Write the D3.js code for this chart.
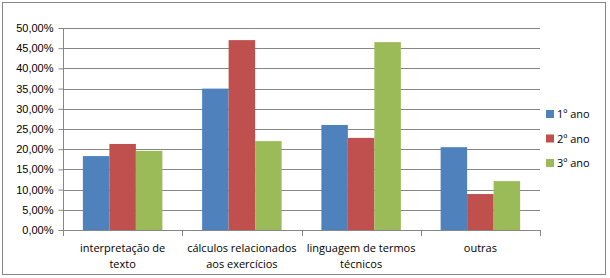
<!DOCTYPE html>
<html>
<head>
<meta charset="utf-8">
<script src="https://cdn.jsdelivr.net/npm/d3@7"></script>
<style>
  body { margin: 0; background: #fff; }
  svg { display: block; font-family: "Open Sans", "Liberation Sans", sans-serif; }
</style>
</head>
<body>
<svg width="610" height="278"></svg>
<script>
const categories = [["interpretação de", "texto"], ["cálculos relacionados", "aos exercícios"], ["linguagem de termos", "técnicos"], ["outras"]];
const seriesNames = ["1º ano", "2º ano", "3º ano"];
const ano1 = [18.3, 35.0, 26.0, 20.5];
const ano2 = [21.3, 47.0, 22.8, 8.9];
const ano3 = [19.6, 22.0, 46.5, 12.1];
const yTicks = [0, 5, 10, 15, 20, 25, 30, 35, 40, 45, 50];

const colors = ["#4F81BD", "#C0504D", "#9BBB59"];
const series = [ano1, ano2, ano3];

const svg = d3.select("svg");
const margin = { top: 28, left: 63, right: 70, bottom: 48 };
const width = 610 - margin.left - margin.right,
  height = 278 - margin.top - margin.bottom;

// chart border
svg.append("rect")
  .attr("x", 2.5).attr("y", 2.5)
  .attr("width", 603).attr("height", 272)
  .attr("fill", "#fff").attr("stroke", "#868686");

const g = svg.append("g").attr("transform", `translate(${margin.left},${margin.top})`);

const x0 = d3.scaleBand().domain(d3.range(categories.length)).range([0, width]).padding(0);
// gap width 150% of bar width -> 0.75 bar of padding on each side of a group
const x1 = d3.scaleBand().domain(d3.range(series.length)).range([0, x0.bandwidth()])
  .paddingInner(0).paddingOuter(0.75);
const y = d3.scaleLinear().domain([0, 50]).range([height, 0]);

// gridlines
g.selectAll(".grid").data(yTicks).enter().append("line")
  .attr("x1", 0).attr("x2", width)
  .attr("y1", d => Math.round(y(d)) + 0.5).attr("y2", d => Math.round(y(d)) + 0.5)
  .attr("stroke", "#868686");

// bars
const groups = g.selectAll(".grp").data(categories).enter().append("g")
  .attr("transform", (d, i) => `translate(${x0(i)},0)`);
groups.selectAll("rect").data((d, i) => series.map((s, k) => ({ k, v: s[i] }))).enter().append("rect")
  .attr("x", d => x1(d.k)).attr("width", x1.bandwidth())
  .attr("y", d => y(d.v)).attr("height", d => y(0) - y(d.v))
  .attr("fill", d => colors[d.k]);

// y axis
const yAxis = d3.axisLeft(y).tickValues(yTicks).tickSize(5).tickPadding(5)
  .tickFormat(d => d3.format(".2f")(d).replace(".", ",") + "%");
const ya = g.append("g").attr("transform", "translate(0.5,0)").call(yAxis);
ya.select(".domain").attr("stroke", "#868686").attr("d", `M-5,${height + 0.5}H0V0.5`);
ya.selectAll(".tick line").attr("stroke", "#868686");
ya.selectAll(".tick text").attr("font-size", "11px").attr("fill", "#000")
  .attr("font-family", "'Liberation Sans', sans-serif");

// x axis
g.append("line").attr("x1", 0).attr("x2", width)
  .attr("y1", height + 0.5).attr("y2", height + 0.5).attr("stroke", "#868686");
g.selectAll(".xt").data(d3.range(categories.length + 1)).enter().append("line")
  .attr("x1", d => Math.round(d * x0.step()) + 0.5).attr("x2", d => Math.round(d * x0.step()) + 0.5)
  .attr("y1", height).attr("y2", height + 6).attr("stroke", "#868686");

const labels = g.selectAll(".xl").data(categories).enter().append("text")
  .attr("x", (d, i) => x0(i) + x0.bandwidth() / 2)
  .attr("y", height + 22)
  .attr("text-anchor", "middle").attr("font-size", "11px").attr("fill", "#000");
labels.selectAll("tspan").data(d => d).enter().append("tspan")
  .attr("x", function () { return this.parentNode.getAttribute("x"); })
  .attr("dy", (d, i) => i === 0 ? 0 : 16)
  .text(d => d);

// legend
const legend = svg.append("g").attr("transform", "translate(546,110)");
const li = legend.selectAll("g").data(seriesNames).enter().append("g")
  .attr("transform", (d, i) => `translate(0,${i * 24.5})`);
li.append("rect").attr("width", 8).attr("height", 8).attr("fill", (d, i) => colors[i]);
li.append("text").attr("x", 11).attr("y", 8).attr("font-size", "11px").attr("fill", "#000").text(d => d);
</script>
</body>
</html>
